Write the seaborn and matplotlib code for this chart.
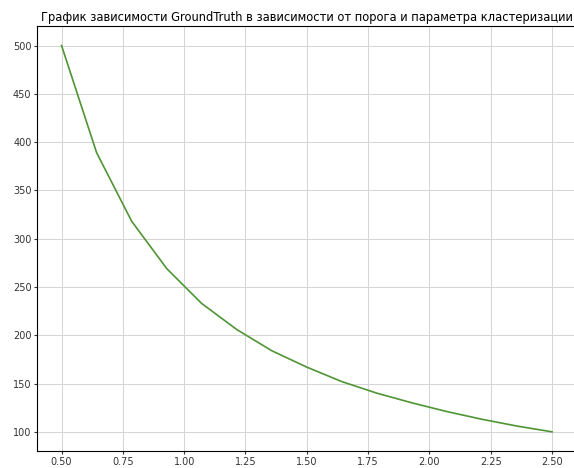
import matplotlib
matplotlib.use('Agg')
import pandas as pd
import seaborn as sns
import matplotlib.pyplot as plt

# Порог кластеризации и значения GroundTruth
thresholds = [0.5, 0.643, 0.786, 0.929, 1.071, 1.214, 1.357, 1.5,
              1.643, 1.786, 1.929, 2.071, 2.214, 2.357, 2.5]
ground_truth = [500, 389, 318, 269, 233, 206, 184, 167,
                152, 140, 130, 121, 113, 106, 100]

df = pd.DataFrame({'threshold': thresholds, 'gt': ground_truth})

fig = plt.figure(figsize=(5.74, 4.68), dpi=100)
ax = fig.add_axes([0.0645, 0.036, 0.94, 0.908])
sns.lineplot(x='threshold', y='gt', data=df, ax=ax, color='#4f9435', linewidth=1.2)
ax.set_xlim(0.4, 2.6)
ax.set_ylim(80, 520)
ax.set_xticks([0.5, 0.75, 1.0, 1.25, 1.5, 1.75, 2.0, 2.25, 2.5])
ax.set_yticks([100, 150, 200, 250, 300, 350, 400, 450, 500])
ax.tick_params(labelsize=7, length=2.5, pad=1.5, colors='#333333')
ax.grid(True, color='#d4d4d4', linewidth=0.7)
ax.set_xlabel('')
ax.set_ylabel('')
ax.set_title('График зависимости GroundTruth в зависимости от порога и параметра кластеризации',
             fontsize=8.3, pad=4)
fig.savefig('out.png', dpi=100)
